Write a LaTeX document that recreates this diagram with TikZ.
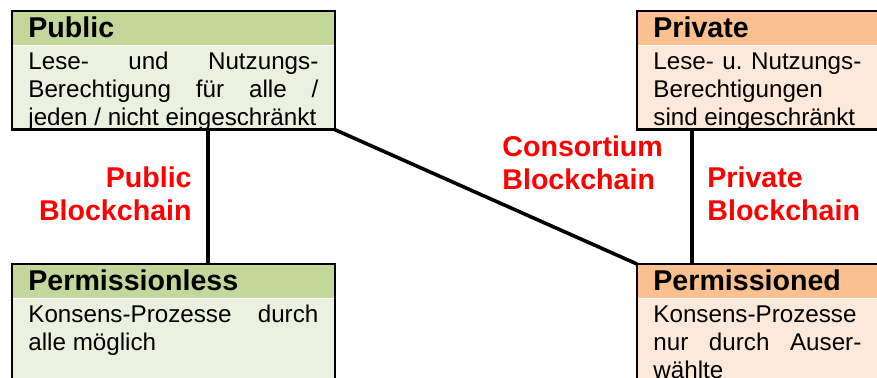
\documentclass[tikz,border=0pt]{standalone}
\usepackage{fontspec}
\setmainfont{Liberation Sans}
\usetikzlibrary{positioning,calc}
\definecolor{colorPublicHead}{HTML}{C4D79B}
\definecolor{colorPublicBody}{HTML}{EBF1DE}
\definecolor{colorPrivateHead}{HTML}{FAC090}
\definecolor{colorPrivateBody}{HTML}{FDE9D9}
\definecolor{colorLabel}{RGB}{255,0,0}
\newcommand{\boxtext}[3]{\parbox[t][#2][t]{#1}{\raggedright\strut #3}}

\begin{document}
\begin{tikzpicture}[x=0.5pt,y=-0.5pt,
  headbar/.style={anchor=north west,inner xsep=8pt,inner ysep=0pt,minimum height=17pt,text height=11pt,text depth=1.6pt,align=left,font=\fontsize{14.3}{16.8}\selectfont\bfseries},
  bodybar/.style={inner xsep=8pt,inner ysep=2.2pt,font=\fontsize{12.1}{13.8}\selectfont},
  frame/.style={draw=black,line width=1.2pt},
  link/.style={draw=black,line width=1.8pt},
  chainlabel/.style={inner sep=0pt,text width=82pt,text=colorLabel,font=\fontsize{14.3}{16.8}\selectfont\bfseries}]
  \path[use as bounding box,clip] (0,0) rectangle (877,377);
  % upper row
  \node[headbar,fill=colorPublicHead,text width=145pt] (pubT) at (12,11) {Public};
  \node[bodybar,fill=colorPublicBody,below=0pt of pubT] (pubB) {\boxtext{145pt}{37.1pt}{Lese-\hfill und\hfill Nutzungs-\\ Berechtigung\hfill für\hfill alle\hfill /\\ jeden / nicht eingeschränkt}};
  \draw[frame] (pubT.north west) rectangle (pubB.south east);
  \node[headbar,fill=colorPrivateHead,text width=104pt] (privT) at (637,11) {Private};
  \node[bodybar,fill=colorPrivateBody,below=0pt of privT] (privB) {\boxtext{104pt}{37.1pt}{Lese-\hfill u.\hfill Nutzungs-\\ Berechtigungen\\ sind eingeschränkt}};
  \draw[frame] (privT.north west) rectangle (privB.south east);
  % lower row
  \node[headbar,fill=colorPublicHead,text width=145pt] (plT) at (12,264) {Permissionless};
  \node[bodybar,fill=colorPublicBody,below=0pt of plT] (plB) {\boxtext{145pt}{46.6pt}{Konsens-Prozesse\hfill durch\\ alle möglich}};
  \draw[frame] (plT.north west) rectangle (plB.south east);
  \node[headbar,fill=colorPrivateHead,text width=104pt] (pdT) at (637,264) {Permissioned};
  \node[bodybar,fill=colorPrivateBody,below=0pt of pdT] (pdB) {\boxtext{104pt}{46.6pt}{Konsens-Prozesse\\ nur\hfill durch\hfill Auser-\\ wählte}};
  \draw[frame] (pdT.north west) rectangle (pdB.south east);
  % connectors
  \draw[link] ($(pubB.south west)+(196,0)$) -- ($(plT.north west)+(196,0)$);
  \draw[link] (pubB.south east) -- (pdT.north west);
  \draw[link] ($(privB.south west)+(55,0)$) -- ($(pdT.north west)+(55,0)$);
  % labels
  \node[chainlabel,align=right,anchor=base east] (pubL) at (192,187) {Public\\Blockchain};
  \node[chainlabel,align=left,anchor=base west] (conL) at (502,156) {Consortium\\Blockchain};
  \node[chainlabel,align=left,anchor=base west] (privL) at (707,187) {Private\\Blockchain};
\end{tikzpicture}
\end{document}
